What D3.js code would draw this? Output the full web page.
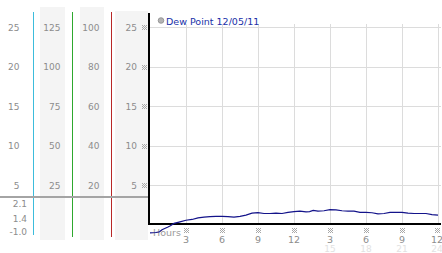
<!DOCTYPE html>
<html><head><meta charset="utf-8">
<script src="https://cdn.jsdelivr.net/npm/d3@7"></script>
<style>html,body{margin:0;padding:0;background:#fff;overflow:hidden}svg{display:block}</style>
</head><body><svg id="c" width="442" height="253"></svg>
<script>
// ---- data ----
const hours = [0,0.5,0.8,1,1.5,1.7,2,2.5,3,3.5,4,4.5,5,5.5,6,6.5,7,7.5,8,8.5,9,9.5,10,10.5,11,11.5,12,12.5,13,13.3,13.6,14,14.5,15,15.5,16,16.5,17,17.5,18,18.5,19,19.5,20,20.5,21,21.5,22,22.5,23,23.5,24];
const dewPoint = [-1.0,-0.95,-0.85,-0.6,-0.25,-0.1,0.2,0.4,0.6,0.7,0.9,1.0,1.05,1.1,1.1,1.05,1.0,1.1,1.25,1.5,1.55,1.45,1.45,1.5,1.45,1.6,1.7,1.75,1.65,1.7,1.85,1.75,1.8,1.95,1.9,1.8,1.75,1.75,1.6,1.6,1.55,1.4,1.45,1.6,1.6,1.6,1.5,1.45,1.45,1.45,1.3,1.25];
const yTicks = [5,10,15,20,25];
const colC = ["5","10","15","20","25"];
const colA = ["25","50","75","100","125"];
const colB = ["20","40","60","80","100"];
const colD = ["5","10","15","20","25"];
const stats = ["2.1","1.4","-1.0"];
const xTicks = [3,6,9,12,15,18,21,24];
const xLabels12 = ["3","6","9","12","3","6","9","12"];
const xLabels24 = ["","","","","15","18","21","24"];
const legendText = "Dew Point 12/05/11";

// ---- drawing ----
const svg = d3.select("#c");
const x = d3.scaleLinear().domain([0,24]).range([150,438]);
const y = d3.scaleLinear().domain([0,25]).range([225,27]);
const font = "DejaVu Sans, Verdana, sans-serif";
const tc = "#8c8c8c";

// left panel backgrounds
[[40,65,7],[80,104,7],[115,148,11]].forEach(([a,b,t])=>{
  svg.append("rect").attr("x",a).attr("y",t).attr("width",b-a).attr("height",240-t).attr("fill","#f4f4f4");
});
// coloured separators
[[33,"#3cbcdc",12,235],[72,"#2ea82e",12,237],[111,"#b82828",12,237]].forEach(([cx,col,t,b])=>{
  svg.append("rect").attr("x",cx).attr("y",t).attr("width",1).attr("height",b-t).attr("fill",col);
});

// left labels
function col(labels, xr){
  svg.append("g").selectAll("text").data(yTicks).join("text")
    .attr("x",xr).attr("y",d=>y(d)+3.5).attr("text-anchor","end")
    .attr("font-family",font).attr("font-size",9).attr("fill",tc)
    .text((d,i)=>labels[i]);
}
col(colC,19.5); col(colA,60.5); col(colB,99.5); col(colD,137);

// stats
svg.append("g").selectAll("text").data(stats).join("text")
  .attr("x",27).attr("y",(d,i)=>[207,221.5,235][i]).attr("text-anchor","end")
  .attr("font-family",font).attr("font-size",9).attr("fill",tc).text(d=>d);

// grey separator
svg.append("rect").attr("x",0).attr("y",196).attr("width",149).attr("height",2).attr("fill","#a4a4a4");

// grid
svg.append("g").selectAll("line").data(yTicks).join("line")
  .attr("x1",150).attr("x2",441).attr("y1",d=>Math.round(y(d))+0.5).attr("y2",d=>Math.round(y(d))+0.5)
  .attr("stroke","#dcdcdc");
svg.append("g").selectAll("line").data(xTicks).join("line")
  .attr("x1",d=>Math.round(x(d))+0.5).attr("x2",d=>Math.round(x(d))+0.5).attr("y1",24).attr("y2",224)
  .attr("stroke","#dcdcdc");

// small dotted tick mark (※-like)
const markPts = [[0,0],[2,0],[4,0],[1,1],[3,1],[0,2],[2,2],[4,2],[1,3],[3,3],[0,4],[2,4],[4,4]];
function mark(cx, cy){
  const g = svg.append("g").attr("transform",`translate(${Math.round(cx)-2},${Math.round(cy)-2})`);
  g.selectAll("rect").data(markPts).join("rect").attr("x",p=>p[0]).attr("y",p=>p[1])
    .attr("width",1).attr("height",1).attr("fill","#a8a8a8");
}
yTicks.forEach(v=>mark(144, y(v)));
xTicks.forEach(v=>mark(x(v)+(v===24?-1:0), 230));

// x labels
svg.append("g").selectAll("text").data(xTicks).join("text")
  .attr("x",d=>x(d)+(d===24?-1:0)).attr("y",243).attr("text-anchor","middle")
  .attr("font-family",font).attr("font-size",9.5).attr("fill",tc).text((d,i)=>xLabels12[i]);
svg.append("g").selectAll("text").data(xTicks).join("text")
  .attr("x",d=>x(d)+(d===24?-1:0)).attr("y",251.5).attr("text-anchor","middle")
  .attr("font-family",font).attr("font-size",9).attr("fill","#e2e2e2").text((d,i)=>xLabels24[i]);
svg.append("text").attr("x",153).attr("y",235.5).attr("font-family",font).attr("font-size",9.5)
  .attr("fill","#9a9a9a").text("Hours");

// axes
svg.append("rect").attr("x",148).attr("y",13).attr("width",2).attr("height",212).attr("fill","#000");
svg.append("rect").attr("x",148).attr("y",223).attr("width",293).attr("height",2).attr("fill","#000");

// data line
const line = d3.line().x((d,i)=>x(hours[i])).y(d=>y(d));
svg.append("path").datum(dewPoint).attr("d",line).attr("fill","none")
  .attr("stroke","#13138a").attr("stroke-width",1.2);

// legend
svg.append("circle").attr("cx",161).attr("cy",20.5).attr("r",2.8).attr("fill","#b4b4b4").attr("stroke","#8a8a8a").attr("stroke-width",0.8);
svg.append("text").attr("x",166).attr("y",24.5).attr("font-family",font).attr("font-size",9.5)
  .attr("fill","#2030a8").text(legendText);
</script></body></html>
